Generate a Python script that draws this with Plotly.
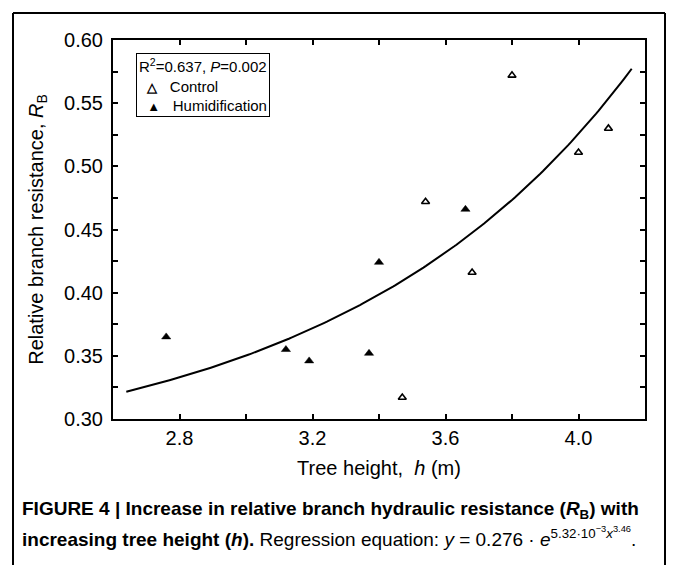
import numpy as np
import plotly.graph_objects as go

# ---- data ----
ctrl_h = [3.47, 3.54, 3.68, 3.80, 4.00, 4.09]
ctrl_rb = [0.317, 0.472, 0.416, 0.572, 0.511, 0.530]
hum_h = [2.76, 3.12, 3.19, 3.37, 3.40, 3.66]
hum_rb = [0.365, 0.355, 0.346, 0.352, 0.424, 0.466]

# regression (from caption): y = a * exp(b * x^c)
fit_a, fit_b, fit_c = 0.276, 5.32e-3, 3.46
fit_h_min, fit_h_max = 2.64, 4.16

x_ticks = [2.8, 3.2, 3.6, 4.0]
y_ticks = [0.30, 0.35, 0.40, 0.45, 0.50, 0.55, 0.60]

h_fit = np.linspace(fit_h_min, fit_h_max, 200)
rb_fit = fit_a * np.exp(fit_b * h_fit ** fit_c)

# page has an 8px body margin; figure is placed at (8, 8) and sized to avoid overflow
OFF = 8
W, H = 659, 557
L, R, T, B = 105, 22, 32, 146
pw, ph = W - L - R, H - T - B


def px(xpage):
    return (xpage - OFF - L) / pw


def py(ypage):
    return (H - B - (ypage - OFF)) / ph


fig = go.Figure()
fig.add_trace(go.Scatter(x=h_fit, y=rb_fit, mode="lines",
                         line=dict(color="black", width=2),
                         showlegend=False, hoverinfo="skip"))
fig.add_trace(go.Scatter(x=ctrl_h, y=ctrl_rb, mode="markers", name="Control",
                         showlegend=False,
                         marker=dict(symbol="triangle-up-open", size=7, color="black",
                                     line=dict(width=1.6, color="black"))))
fig.add_trace(go.Scatter(x=hum_h, y=hum_rb, mode="markers", name="Humidification",
                         showlegend=False,
                         marker=dict(symbol="triangle-up", size=8, color="black",
                                     line=dict(width=0.5, color="black"))))

axis_common = dict(
    ticks="inside", ticklen=5, tickwidth=2, tickcolor="black",
    showline=True, linewidth=2, linecolor="black", mirror="ticks",
    showgrid=False, zeroline=False,
    tickfont=dict(size=20, color="black"),
)

fig.update_xaxes(
    range=[2.6, 4.2], tickvals=x_ticks, tickformat=".1f",
    minor=dict(dtick=0.2, tick0=2.6, ticks="inside", ticklen=5, tickwidth=2,
               tickcolor="black", showgrid=False),
    title=dict(text="Tree height,  <i>h</i> (m)", font=dict(size=20, color="black"),
               standoff=13),
    **axis_common,
)
fig.update_yaxes(
    range=[0.30, 0.60], tickvals=y_ticks, tickformat=".2f",
    minor=dict(dtick=0.025, tick0=0.3, ticks="inside", ticklen=5, tickwidth=2,
               tickcolor="black", showgrid=False),
    title=dict(text="Relative branch resistance, <i>R</i><sub>B</sub>",
               font=dict(size=20, color="black"), standoff=15),
    ticklabelstandoff=4,
    **axis_common,
)

cap_font = "Liberation Sans, Arial, sans-serif"
nb = "\u00a0"
legend_text = (
    "R<sup>2</sup>=0.637, <i>P</i>=0.002<br>"
    + nb * 2 + "<span style='font-size:13px'><b>△</b></span>" + nb * 3 + "Control<br>"
    + nb * 2 + "<span style='font-size:13px'>▲</span>" + nb * 3 + "Humidification"
)

frame_line = dict(color="black", width=2)
fx0, fx1, fy0, fy1 = px(13), px(665), py(580), py(13)

fig.update_layout(
    width=W, height=H,
    margin=dict(l=L, r=R, t=T, b=B),
    paper_bgcolor="white", plot_bgcolor="white",
    font=dict(family="Liberation Sans, Arial, sans-serif", color="black"),
    showlegend=False,
    shapes=[
        dict(type="line", xref="paper", yref="paper", x0=fx0, x1=fx1, y0=fy1, y1=fy1, line=frame_line),
        dict(type="line", xref="paper", yref="paper", x0=fx0, x1=fx0, y0=fy0, y1=fy1, line=frame_line),
        dict(type="line", xref="paper", yref="paper", x0=fx1, x1=fx1, y0=fy0, y1=fy1, line=frame_line),
    ],
    annotations=[
        dict(xref="paper", yref="paper", x=px(136), y=py(53), xanchor="left", yanchor="top",
             showarrow=False, align="left", text=legend_text,
             bordercolor="black", borderwidth=1, borderpad=2, bgcolor="white",
             font=dict(size=15, color="black")),
        dict(xref="paper", yref="paper", x=px(20), y=py(510), xanchor="left", yanchor="middle",
             showarrow=False, align="left",
             text="<b>FIGURE 4 | Increase in relative branch hydraulic resistance (<i>R</i><sub>B</sub>) with</b>",
             font=dict(family=cap_font, size=19, color="black")),
        dict(xref="paper", yref="paper", x=px(20), y=py(537), xanchor="left", yanchor="middle",
             showarrow=False, align="left",
             text="<b>increasing tree height (<i>h</i>).</b> Regression equation: <i>y</i> = 0.276 · <i>e</i>"
                  "<sup>5.32·10<sup>−3</sup><i>x</i><sup>3.46</sup></sup>.",
             font=dict(family=cap_font, size=19, color="black")),
    ],
)

fig.write_html("out.html")
